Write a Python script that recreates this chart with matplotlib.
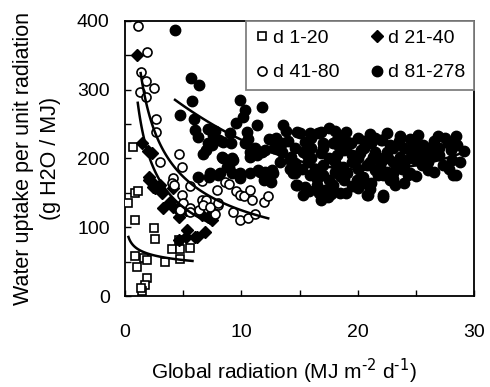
import numpy as np
import matplotlib
matplotlib.use("Agg")
import matplotlib.pyplot as plt

plt.rcParams['font.family'] = ['Liberation Sans', 'DejaVu Sans']

# d 1-20 (open squares)
sq_x = [0.7, 0.3, 0.9, 1.1, 0.9, 2.5, 2.6, 0.9, 1.0, 1.6, 1.9, 1.9, 1.7, 1.5, 4.0, 4.7, 5.6, 4.6, 4.7, 3.4, 1.4]
sq_y = [217, 135, 150, 152, 110, 99, 83, 58, 42, 55, 52, 26, 16, 7, 68, 68, 70, 81, 54, 50, 12]

# d 21-40 (filled diamonds)
di_x = [1.0, 1.5, 2.0, 2.3, 2.1, 2.6, 2.1, 2.3, 3.0, 3.2, 4.1, 3.9, 4.6, 5.2, 3.3, 4.6, 5.3, 5.2,
        4.6, 6.2, 6.9, 7.1, 7.5, 2.4, 4.1, 4.7, 6.0, 6.6, 7.3]
di_y = [350, 222, 211, 208, 169, 157, 173, 166, 161, 150, 157, 137, 130, 125, 128, 115, 96, 86,
        81, 86, 93, 115, 111, 159, 130, 122, 86, 118, 113]

# d 41-80 (open circles)
ci_x = [1.1, 1.9, 1.4, 1.8, 2.5, 1.3, 1.8, 2.7, 2.7, 3.0, 4.6, 4.9, 4.1, 4.0, 4.2, 5.6, 4.9, 6.6,
        6.6, 7.0, 7.9, 8.6, 8.9, 9.5, 9.9, 10.2, 10.7, 10.9, 11.9, 12.3, 8.0, 9.3, 9.9, 10.6,
        11.2, 5.0, 5.6, 6.4, 6.7, 7.7, 7.3, 4.7, 5.6, 8.0]
ci_y = [392, 355, 325, 313, 303, 297, 289, 258, 239, 195, 207, 188, 171, 164, 162, 160, 147, 167,
        140, 140, 154, 166, 163, 152, 147, 146, 154, 140, 137, 146, 132, 122, 110, 113,
        120, 135, 128, 125, 132, 120, 130, 125, 122, 135]

# d 81-278 (filled circles)
bl_x = [4.3, 5.7, 6.4, 5.8, 4.7, 5.9, 6.0, 6.3, 7.1, 7.7, 7.1, 7.0, 6.7, 7.3, 6.3, 8.2, 8.3, 9.2,
        9.0, 9.5, 9.9, 10.3, 11.8, 10.1, 10.5, 10.6, 11.3, 12.0, 11.3, 10.7, 8.9, 9.9, 10.7, 11.4,
        12.0, 12.7, 11.9, 12.5, 13.5, 13.6, 13.5, 14.3, 14.6, 15.0, 15.9, 16.8, 17.5, 18.2, 14.8,
        7.6, 7.5, 8.4, 9.1, 8.1, 11.2, 11.8, 13.3, 14.2, 14.4, 14.7, 8.4, 9.3, 8.8, 9.2, 9.9,
        11.6, 12.6, 12.0, 8.0, 7.2, 10.7, 10.3, 12.4,
        16.6, 18.5, 20.0, 21.1, 22.1, 14.6, 15.5, 17.0, 17.9, 19.4, 16.8, 18.2, 20.2, 21.3,
        15.7, 17.0, 18.7, 20.8, 21.9, 14.6, 15.9, 17.0, 19.1, 20.4, 21.7, 22.5, 14.8, 15.5,
        16.5, 17.2, 15.3, 17.0, 20.0, 20.9, 22.2, 17.9, 18.8, 19.9, 21.1, 22.0, 22.8, 23.6,
        25.2, 26.9, 28.4, 25.6, 27.7, 29.1, 24.5, 24.9, 26.4, 28.1, 27.3, 26.0, 24.3, 23.0,
        22.8, 23.2, 28.4, 22.2, 22.2, 23.6, 22.6, 19.0, 20.5, 16.0, 23.0, 24.0, 25.0, 26.0,
        18.0, 19.5, 21.5, 16.3, 18.0, 20.0, 23.5, 24.5, 25.0, 27.0, 28.0, 26.5, 21.0, 19.0,
        24.0, 15.8, 16.7, 16.8, 17.7, 18.5,
        16.0, 17.0, 18.0, 19.0, 19.5, 20.5, 21.5, 22.5, 23.0, 24.0, 24.5, 25.5, 26.0, 27.0,
        27.5, 28.5, 23.8, 25.5, 21.0, 18.5, 19.5, 21.0, 16.5, 15.2, 16.0, 17.5, 18.8, 20.0,
        22.0, 23.0, 25.0, 26.5, 21.5, 17.5, 19.0, 20.5, 14.0, 13.8, 15.3, 22.5, 24.8, 26.2,
        20.8, 17.4, 28.2, 24.5, 13.0, 12.8, 14.2, 15.6, 18.3, 21.8, 23.3, 27.8, 28.8, 20.3]
bl_y = [387, 317, 307, 283, 263, 257, 241, 231, 243, 240, 223, 212, 207, 179, 173, 179, 202, 200,
        237, 251, 285, 271, 275, 261, 239, 229, 249, 212, 205, 210, 188, 179, 179, 183,
        181, 179, 169, 166, 210, 249, 222, 202, 193, 237, 237, 239, 244, 227, 239,
        234, 220, 224, 222, 227, 215, 210, 195, 198, 179, 161, 200, 198, 188, 179, 172,
        181, 183, 176, 176, 173, 202, 222, 229,
        237, 232, 230, 222, 227, 215, 224, 222, 222, 222, 208, 205, 208, 202,
        195, 190, 188, 190, 188, 179, 176, 176, 179, 173, 176, 181, 161, 159,
        161, 154, 147, 144, 157, 147, 147, 161, 169, 169, 164, 227, 220, 232,
        234, 232, 232, 220, 222, 211, 212, 210, 205, 198, 190, 183, 176, 179,
        169, 161, 176, 144, 176, 202, 200, 215, 215, 200, 215, 190, 198, 215,
        195, 195, 210, 185, 180, 185, 225, 228, 218, 215, 212, 225, 235, 238,
        165, 152, 150, 140, 148, 150,
        230, 215, 240, 225, 205, 225, 230, 210, 195, 215, 200, 205, 195, 205,
        230, 220, 185, 190, 195, 175, 160, 155, 170, 185, 215, 200, 212, 200,
        195, 170, 175, 180, 183, 168, 150, 165, 225, 240, 210, 237, 222, 215,
        147, 144, 176, 179, 230, 215, 185, 205, 220, 200, 190, 185, 195, 212]

# trendlines: power fits (a, b, x range) and a quadratic (c0, c1, c2, x range)
sq_fit = (69.5, -0.176, 0.3, 5.8)
di_fit = (295, -0.513, 1.1, 7.5)
ci_fit = (374, -0.477, 1.35, 12.3)
bl_fit = (345, -15.5, 0.372, 4.3, 29.1)

fig = plt.figure(figsize=(4.9, 3.87), dpi=100)
ax = fig.add_axes([0.255, 0.235, 0.713, 0.711])

h_sq, = ax.plot(sq_x, sq_y, 's', mfc='white', mec='black', mew=1.2, ms=6, label='d 1-20', zorder=3)
h_di, = ax.plot(di_x, di_y, 'D', mfc='black', mec='black', ms=6, label='d 21-40', zorder=3)
h_ci, = ax.plot(ci_x, ci_y, 'o', mfc='white', mec='black', mew=1.2, ms=6.5, label='d 41-80', zorder=3)
h_bl, = ax.plot(bl_x, bl_y, 'o', mfc='black', mec='black', ms=7.5, label='d 81-278', zorder=3)

for a, b, x0, x1 in [sq_fit, di_fit, ci_fit]:
    xx = np.linspace(x0, x1, 100)
    ax.plot(xx, a * xx ** b, color='black', lw=1.8, zorder=4)
c0, c1, c2, x0, x1 = bl_fit
xx = np.linspace(x0, x1, 100)
ax.plot(xx, c0 + c1 * xx + c2 * xx ** 2, color='black', lw=1.8, zorder=4)

ax.set_xlim(0, 30)
ax.set_ylim(0, 400)
ax.set_xticks(np.arange(0, 31, 10))
ax.set_xticks(np.arange(0, 31, 5), minor=True)
ax.set_yticks(np.arange(0, 401, 100))
ax.set_yticks(np.arange(0, 401, 50), minor=True)
ax.tick_params(which='both', direction='in', length=4, width=1, labelsize=14)
ax.tick_params(axis='x', which='major', pad=20)
ax.tick_params(axis='y', which='major', pad=11)
for s in ax.spines.values():
    s.set_linewidth(1.3)

ax.set_xlabel('Global radiation (MJ m$^{\\text{-2}}$ d$^{\\text{-1}}$)', fontsize=15)
ax.xaxis.set_label_coords(0.456, -0.22)
ax.set_ylabel('Water uptake per unit radiation\n(g H2O / MJ)', fontsize=15.5, linespacing=1.35)
ax.yaxis.set_label_coords(-0.183, 0.5)

leg = ax.legend([h_sq, h_ci, h_di, h_bl], ['d 1-20', 'd 41-80', 'd 21-40', 'd 81-278'],
                ncol=2, loc='upper right', bbox_to_anchor=(1.0, 1.0), borderaxespad=0,
                fontsize=14, frameon=True, fancybox=False, labelspacing=0.85,
                handlelength=0.7, handletextpad=0.25, columnspacing=1.55, borderpad=0.45)
leg.get_frame().set_edgecolor('#808080')
leg.get_frame().set_linewidth(1.3)
leg.get_frame().set_alpha(1)

fig.savefig('out.png', dpi=100)
